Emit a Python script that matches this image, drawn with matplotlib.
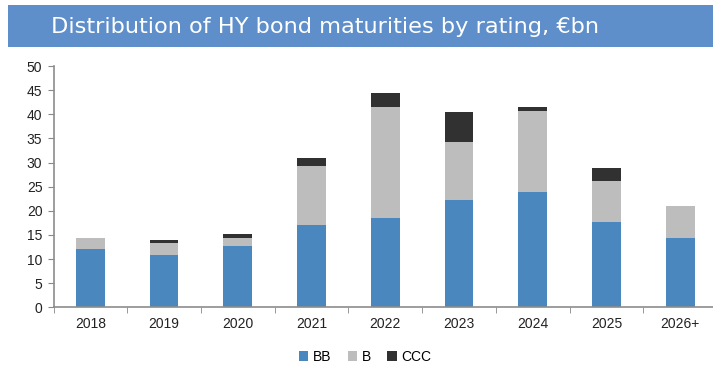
import numpy as np
import matplotlib.pyplot as plt
from matplotlib.patches import Rectangle

years = ["2018", "2019", "2020", "2021", "2022", "2023", "2024", "2025", "2026+"]
bb = [12.0, 10.8, 12.6, 17.1, 18.6, 22.2, 23.9, 17.6, 14.4]
b = [2.4, 2.5, 1.7, 12.1, 23.0, 12.0, 16.7, 8.6, 6.5]
ccc = [0.0, 0.6, 0.9, 1.8, 2.9, 6.3, 1.0, 2.6, 0.0]

colors = {"BB": "#4a87bf", "B": "#bdbdbd", "CCC": "#313131"}

W, H = 713, 370
fig = plt.figure(figsize=(W / 100, H / 100), dpi=100)

# title banner
fig.patches.append(Rectangle((8 / W, 1 - 47 / H), 1, 42 / H, transform=fig.transFigure,
                             facecolor="#5f8fca", edgecolor="none", zorder=0))
fig.text(51 / W, 1 - 27 / H, "Distribution of HY bond maturities by rating, €bn",
         color="white", fontsize=16.2, fontweight="normal", family="DejaVu Sans",
         va="center", ha="left")

ax = fig.add_axes([53.5 / W, 1 - 307.3 / H, (717 - 53.5) / W, (307.3 - 66) / H])

x = np.arange(len(years))
width = 0.39
ax.bar(x, bb, width, color=colors["BB"], label="BB")
ax.bar(x, b, width, bottom=bb, color=colors["B"], label="B")
ax.bar(x, ccc, width, bottom=np.array(bb) + np.array(b), color=colors["CCC"], label="CCC")

ax.set_xlim(-0.5, len(years) - 0.5)
ax.set_ylim(0, 50)
ax.set_yticks(range(0, 51, 5))
ax.set_xticks(x)
ax.set_xticklabels(years)
ax.set_xticks(np.arange(-0.5, len(years), 1), minor=True)
ax.tick_params(axis="x", which="major", length=0, pad=7)
ax.tick_params(axis="x", which="minor", length=4, color="#888888")
ax.tick_params(axis="y", length=4, color="#888888", pad=4)
for lab in ax.get_xticklabels() + ax.get_yticklabels():
    lab.set_family("Liberation Sans")
    lab.set_fontsize(10)
    lab.set_color("#222222")

for side in ["top", "right"]:
    ax.spines[side].set_visible(False)
for side in ["left", "bottom"]:
    ax.spines[side].set_color("#8c8c8c")
    ax.spines[side].set_linewidth(1.2)

fig.legend(loc="center", bbox_to_anchor=(365 / W, 1 - 357 / H), ncol=3, frameon=False,
           handlelength=0.7, handleheight=0.7, handletextpad=0.3, columnspacing=1.2,
           prop={"family": "Liberation Sans", "size": 10})

fig.savefig("out.png", dpi=100)
